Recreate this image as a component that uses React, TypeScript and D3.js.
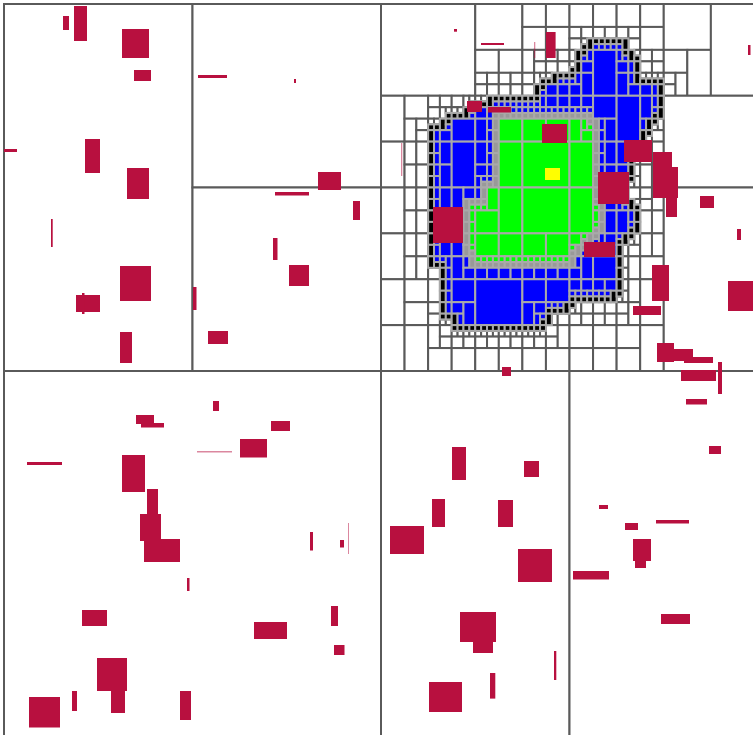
import React, { useMemo } from "react";
import * as d3 from "d3";

// finest grid resolution of the k-d subdivision (128 x 128 cells)
const GRID = 128;
const FIELD_W = 754;
const FIELD_H = 734;

// outer explored region (blue + black frontier), per row: [row, firstCol, lastCol]
const outerRows: [number, number, number][] = [
  [6, 99, 105], [7, 98, 105], [8, 97, 106], [9, 97, 107], [10, 97, 107], [11, 96, 107],
  [12, 93, 107], [13, 91, 111], [14, 90, 111], [15, 90, 111], [16, 82, 111], [17, 79, 111],
  [18, 78, 111], [19, 75, 111], [20, 74, 110], [21, 72, 109], [22, 72, 109], [23, 72, 108],
  [24, 72, 108], [25, 72, 107], [26, 72, 106], [27, 72, 106], [28, 72, 106], [29, 72, 106],
  [30, 72, 106], [31, 72, 105], [32, 72, 105], [33, 72, 105], [34, 72, 106], [35, 72, 107],
  [36, 72, 107], [37, 72, 107], [38, 72, 107], [39, 72, 107], [40, 72, 106], [41, 72, 105],
  [42, 72, 104], [43, 72, 104], [44, 72, 104], [45, 72, 104], [46, 74, 104], [47, 74, 104],
  [48, 74, 104], [49, 74, 104], [50, 74, 104], [51, 74, 103], [52, 74, 96], [53, 74, 95],
  [54, 74, 92], [55, 76, 92], [56, 76, 91],
];

// inner region (green + grey frontier), per row
const innerRows: [number, number, number][] = [
  [19, 83, 99], [20, 83, 100], [21, 83, 100], [22, 83, 100], [23, 83, 100], [24, 83, 100],
  [25, 83, 100], [26, 83, 100], [27, 83, 100], [28, 83, 100], [29, 83, 100], [30, 83, 100],
  [31, 81, 100], [32, 81, 100], [33, 81, 100], [34, 78, 101], [35, 78, 101], [36, 78, 101],
  [37, 78, 101], [38, 78, 101], [39, 78, 101], [40, 78, 100], [41, 78, 99], [42, 78, 98],
  [43, 78, 97], [44, 79, 96], [45, 79, 96],
];

// frontier thickness in finest cells: [outer (black), inner (grey)]
const ringWidth: [number, number] = [1, 1];

// start marker in field units: [x, y, w, h]
const startMarker: [number, number, number, number] = [541, 164, 15, 12];

// coarse nodes that are split although uniform: [x0, y0, x1, y1] in grid units
const forcedSplits: [number, number, number, number][] = [
  [0, 0, 64, 128], [0, 0, 64, 64], [32, 0, 64, 64], [64, 64, 128, 128],
];
// area where the white cells are graded toward the explored region
const balanceRegion: [number, number, number, number] = [64, 0, 128, 64];
// white areas left coarse
const coarseAreas: [number, number, number, number][] = [
  [112, 32, 128, 64], [112, 16, 128, 32], [64, 0, 80, 16],
];

// obstacles in field units: [x, y, w, h, faint]
const obstacles: [number, number, number, number, number][] = [
  [59, 12, 6, 14, 0], [70, 2, 13, 35, 0], [118, 25, 27, 29, 0], [130, 66, 17, 11, 0],
  [0, 145, 13, 3, 0], [81, 135, 15, 34, 0], [123, 164, 22, 31, 0], [47, 215, 1.7, 28, 0],
  [116, 262, 31, 35, 0], [72, 291, 24, 17, 0], [78, 289, 2.5, 21, 0], [116, 328, 12, 31, 0],
  [194, 71, 29, 3, 0], [290, 75, 2, 4, 0], [314, 168, 23, 18, 0], [271, 188, 34, 3.5, 0],
  [349, 197, 7, 19, 0], [269, 234, 4.5, 22, 0], [285, 261, 20, 21, 0], [189, 283, 3.5, 23, 0],
  [204, 327, 20, 13, 0], [209, 397, 6, 10, 0], [132, 411, 18, 9, 0], [137, 419, 23, 4.5, 0],
  [267, 417, 19, 10, 0], [193, 447, 35, 1.5, 1], [236, 435, 27, 18.5, 0], [23, 458, 35, 3, 0],
  [118, 451, 23, 37, 0], [143, 485, 11, 25, 0], [136, 510, 21, 27, 0], [140, 535, 36, 23, 0],
  [183, 574, 2.5, 13, 0], [306, 528, 3, 18.5, 0], [336, 536, 4, 7.5, 0], [344, 519, 1, 31, 1],
  [78, 606, 25, 16, 0], [250, 618, 33, 17, 0], [327, 602, 7, 20, 0], [330, 641, 10.5, 10, 0],
  [93, 654, 30, 33, 0], [107, 687, 14, 22, 0], [68, 687, 5, 20, 0], [25, 693, 31, 30.5, 0],
  [176, 687, 11, 29, 0], [498, 363, 9, 9, 0], [677, 366, 35, 11, 0], [714, 358, 4, 32, 0],
  [682, 395, 21, 5.5, 0], [705, 442, 12, 8, 0], [448, 443, 14, 33, 0], [520, 457, 15, 16, 0],
  [428, 495, 13, 28, 0], [494, 496, 15, 27, 0], [386, 522, 34, 28, 0], [514, 545, 34, 33, 0],
  [595, 501, 9, 4, 0], [621, 519, 13, 7, 0], [652, 516, 33, 3.5, 0], [629, 535, 18, 22, 0],
  [631, 557, 11, 7, 0], [569, 567, 36, 8.5, 0], [657, 610, 29, 10, 0], [456, 608, 36, 30, 0],
  [469, 637, 20, 12, 0], [550, 647, 2.3, 29, 0], [486, 669, 5.3, 25.6, 0], [425, 678, 33, 30, 0],
  [450, 25, 3, 2.7, 0], [477, 39, 23, 2, 0], [530, 38, 1.3, 16, 1], [542, 28, 9.6, 26, 0],
  [744, 41, 2.5, 10, 0], [463, 97, 15, 11, 0], [484, 103, 23, 5.5, 0], [397, 139, 1.3, 33, 1],
  [538, 120, 25, 19, 0], [620, 136, 28, 22, 0], [649, 148, 19, 15, 0], [649, 163, 25, 31, 0],
  [662, 194, 11, 19, 0], [594, 168, 31, 32, 0], [429, 203, 30, 36, 0], [580, 238, 31, 15, 0],
  [696, 192, 14, 12, 0], [733, 225, 4, 11, 0], [648, 261, 17, 36, 0], [724, 277, 30, 30, 0],
  [629, 302, 28, 9, 0], [653, 339, 17, 19, 0], [670, 345, 19, 12, 0], [680, 353, 29, 6, 0],
];

const CAT_FILL = ["#ffffff", "#000000", "#0000ff", "#999999", "#00ff00"];

type Node = { x0: number; y0: number; x1: number; y1: number; d: number };

function buildCategories(): Uint8Array {
  const outer = new Uint8Array(GRID * GRID);
  const inner = new Uint8Array(GRID * GRID);
  for (const [j, a, b] of outerRows) for (let i = a; i <= b; i++) outer[j * GRID + i] = 1;
  for (const [j, a, b] of innerRows) for (let i = a; i <= b; i++) inner[j * GRID + i] = 1;
  const has = (arr: Uint8Array, i: number, j: number) =>
    i >= 0 && j >= 0 && i < GRID && j < GRID && arr[j * GRID + i] === 1;
  const nearEdge = (arr: Uint8Array, i: number, j: number, r: number) => {
    for (let dj = -r; dj <= r; dj++)
      for (let di = -r; di <= r; di++) if (!has(arr, i + di, j + dj)) return true;
    return false;
  };
  const cat = new Uint8Array(GRID * GRID);
  for (let j = 0; j < GRID; j++) {
    for (let i = 0; i < GRID; i++) {
      if (!outer[j * GRID + i]) continue;
      if (nearEdge(outer, i, j, ringWidth[0])) cat[j * GRID + i] = 1;
      else if (inner[j * GRID + i]) cat[j * GRID + i] = nearEdge(inner, i, j, ringWidth[1]) ? 3 : 4;
      else cat[j * GRID + i] = 2;
    }
  }
  return cat;
}

function splitNode(n: Node): Node[] {
  if (n.d % 2 === 0) {
    const m = (n.x0 + n.x1) / 2;
    return [
      { x0: n.x0, y0: n.y0, x1: m, y1: n.y1, d: n.d + 1 },
      { x0: m, y0: n.y0, x1: n.x1, y1: n.y1, d: n.d + 1 },
    ];
  }
  const m = (n.y0 + n.y1) / 2;
  return [
    { x0: n.x0, y0: n.y0, x1: n.x1, y1: m, d: n.d + 1 },
    { x0: n.x0, y0: m, x1: n.x1, y1: n.y1, d: n.d + 1 },
  ];
}

function buildLeaves(cat: Uint8Array): { n: Node; c: number }[] {
  const leaves: Node[] = [];
  const uniform = (n: Node) => {
    const c0 = cat[n.y0 * GRID + n.x0];
    for (let j = n.y0; j < n.y1; j++)
      for (let i = n.x0; i < n.x1; i++) if (cat[j * GRID + i] !== c0) return false;
    return true;
  };
  const forced = (n: Node) =>
    forcedSplits.some(([a, b, c, d]) => a === n.x0 && b === n.y0 && c === n.x1 && d === n.y1);
  const rec = (n: Node) => {
    const canSplit = n.x1 - n.x0 > 1 || n.y1 - n.y0 > 1;
    if (canSplit && (!uniform(n) || forced(n))) splitNode(n).forEach(rec);
    else leaves.push(n);
  };
  rec({ x0: 0, y0: 0, x1: GRID, y1: GRID, d: 0 });

  const [bx0, by0, bx1, by1] = balanceRegion;
  const inB = (i: number, j: number) => i >= bx0 && i < bx1 && j >= by0 && j < by1;
  const isCoarse = (n: Node) =>
    coarseAreas.some(([a, b, c, d]) => n.x0 >= a && n.y0 >= b && n.x1 <= c && n.y1 <= d);
  let current = leaves;
  for (let iter = 0; iter < 40; iter++) {
    const depth = new Int8Array(GRID * GRID);
    for (const n of current)
      for (let j = n.y0; j < n.y1; j++) for (let i = n.x0; i < n.x1; i++) depth[j * GRID + i] = n.d;
    let changed = false;
    const next: Node[] = [];
    for (const n of current) {
      const canSplit = n.x1 - n.x0 > 1 || n.y1 - n.y0 > 1;
      const isWhite = cat[n.y0 * GRID + n.x0] === 0;
      if (!canSplit || !isWhite || !inB(n.x0, n.y0) || isCoarse(n)) { next.push(n); continue; }
      let mx = 0;
      const look = (i: number, j: number) => {
        if (inB(i, j)) mx = Math.max(mx, depth[j * GRID + i]);
      };
      for (let i = n.x0; i < n.x1; i++) { look(i, n.y0 - 1); look(i, n.y1); }
      for (let j = n.y0; j < n.y1; j++) { look(n.x0 - 1, j); look(n.x1, j); }
      if (mx - n.d > 2) { next.push(...splitNode(n)); changed = true; }
      else next.push(n);
    }
    current = next;
    if (!changed) break;
  }
  return current.map((n) => ({ n, c: cat[n.y0 * GRID + n.x0] }));
}

export default function App() {
  const width = 753;
  const height = 735;
  const x = d3.scaleLinear().domain([0, GRID]).range([4, 4 + FIELD_W]);
  const y = d3.scaleLinear().domain([0, GRID]).range([4, 4 + FIELD_H]);
  const fx = d3.scaleLinear().domain([0, FIELD_W]).range([4, 4 + FIELD_W]);
  const fy = d3.scaleLinear().domain([0, FIELD_H]).range([4, 4 + FIELD_H]);

  const leaves = useMemo(() => buildLeaves(buildCategories()), []);
  const white = leaves.filter((l) => l.c === 0);
  const colored = leaves.filter((l) => l.c !== 0);
  const [sx, sy, sw, sh] = startMarker;

  return (
    <svg
      width={width}
      height={height}
      style={{ position: "absolute", left: 0, top: 0, background: "#fff" }}
    >
      <g>
        {white.map(({ n }, k) => (
          <rect
            key={"w" + k}
            x={x(n.x0)}
            y={y(n.y0)}
            width={x(n.x1) - x(n.x0)}
            height={y(n.y1) - y(n.y0)}
            fill="#ffffff"
            stroke="#5a5a5a"
            strokeWidth={2}
          />
        ))}
      </g>
      <g>
        {colored.map(({ n, c }, k) => (
          <rect
            key={"c" + k}
            x={x(n.x0)}
            y={y(n.y0)}
            width={x(n.x1) - x(n.x0)}
            height={y(n.y1) - y(n.y0)}
            fill={CAT_FILL[c]}
            stroke="#a9a9a9"
            strokeWidth={2}
          />
        ))}
      </g>
      <rect
        x={fx(sx)}
        y={fy(sy)}
        width={fx(sx + sw) - fx(sx)}
        height={fy(sy + sh) - fy(sy)}
        fill="#ffff00"
      />
      <g>
        {obstacles.map(([ox, oy, w, h, faint], k) => (
          <rect
            key={"o" + k}
            x={fx(ox)}
            y={fy(oy)}
            width={fx(ox + w) - fx(ox)}
            height={fy(oy + h) - fy(oy)}
            fill="#b8103f"
            fillOpacity={faint ? 0.5 : 1}
          />
        ))}
      </g>
    </svg>
  );
}
